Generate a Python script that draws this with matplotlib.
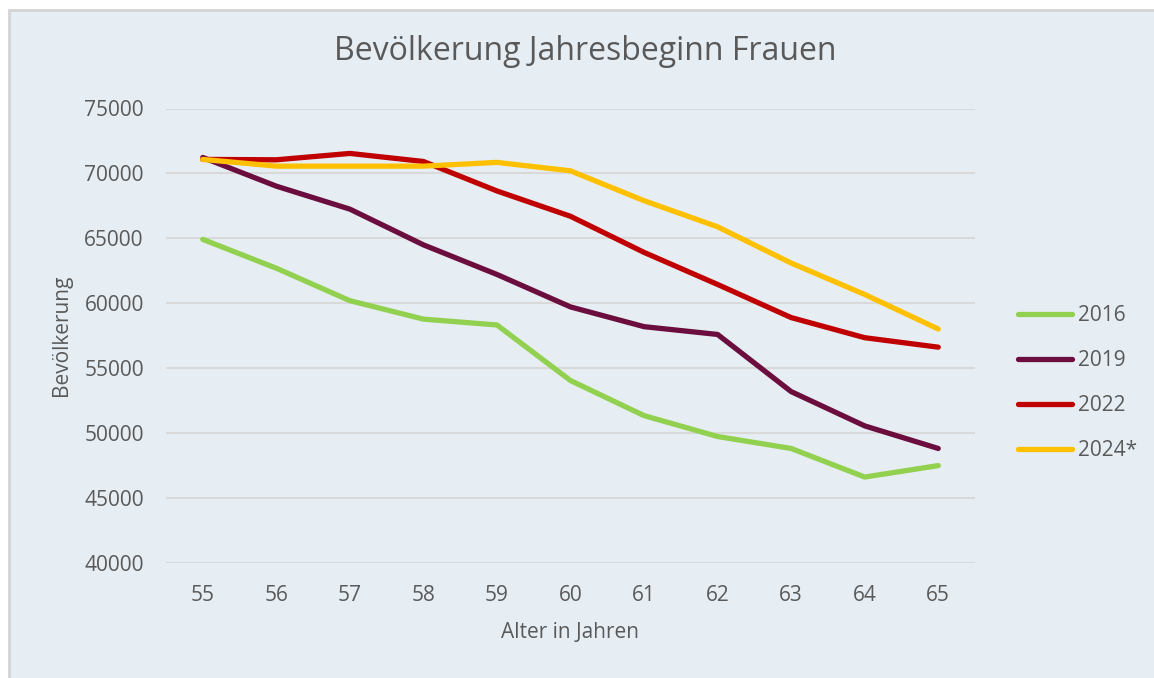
import matplotlib.pyplot as plt
from matplotlib.patches import Rectangle

# data
alter = [55, 56, 57, 58, 59, 60, 61, 62, 63, 64, 65]
jahre = ['2016', '2019', '2022', '2024*']
werte_2016 = [64920, 62700, 60200, 58780, 58330, 54050, 51350, 49740, 48820, 46620, 47500]
werte_2019 = [71230, 69020, 67250, 64500, 62220, 59720, 58200, 57600, 53200, 50560, 48820]
werte_2022 = [71080, 71050, 71540, 70920, 68650, 66700, 63920, 61450, 58900, 57350, 56620]
werte_2024 = [71080, 70560, 70560, 70560, 70850, 70200, 67900, 65890, 63100, 60680, 58020]
farben = ['#92D050', '#6B0D3D', '#C00000', '#FFC000']

plt.rcParams['font.family'] = ['Open Sans', 'DejaVu Sans']
textfarbe = '#595959'
hintergrund = '#E6EEF4'

fig = plt.figure(figsize=(11.54, 6.78), dpi=100)
fig.patch.set_facecolor('white')
W, H = 1154, 678
# chart area with light border (runs off the right and bottom edge)
fig.patches.append(Rectangle((9 / W, -0.05), 1, 1.05 - 10 / H, transform=fig.transFigure,
                             facecolor=hintergrund, edgecolor='#D4D4D4', linewidth=2,
                             zorder=-5))

ax = fig.add_axes([166 / W, 1 - 563 / H, (975 - 166) / W, (563 - 108.5) / H])
ax.set_facecolor(hintergrund)

for werte, farbe, name in zip([werte_2016, werte_2019, werte_2022, werte_2024], farben, jahre):
    ax.plot(alter, werte, color=farbe, linewidth=3.8, label=name,
            solid_capstyle='round', solid_joinstyle='round')

ax.set_xlim(54.5, 65.5)
ax.set_ylim(40000, 75000)
ax.set_yticks(range(40000, 75001, 5000))
ax.set_xticks(alter)
ax.grid(axis='y', color='#D9D9D9', linewidth=1.5)
ax.set_axisbelow(True)
for s in ax.spines.values():
    s.set_visible(False)
ax.tick_params(length=0, labelsize=15, colors=textfarbe)
ax.tick_params(axis='y', pad=16)
ax.tick_params(axis='x', pad=16)

fig.text(585 / W, 1 - 52 / H, 'Bevölkerung Jahresbeginn Frauen', ha='center', va='center',
         fontsize=23, color=textfarbe)
fig.text(570 / W, 1 - 633 / H, 'Alter in Jahren', ha='center', va='center',
         fontsize=15, color=textfarbe)
fig.text(62 / W, 1 - 335 / H, 'Bevölkerung', ha='center', va='center', rotation=90,
         fontsize=15, color=textfarbe)

leg = ax.legend(loc='upper left', bbox_to_anchor=(1.03, 0.609), frameon=False,
                fontsize=15, labelcolor=textfarbe, handlelength=2.6, handletextpad=0.3,
                labelspacing=1.15)
for line in leg.get_lines():
    line.set_linewidth(3.8)

fig.savefig('out.png', dpi=100, facecolor='white')
